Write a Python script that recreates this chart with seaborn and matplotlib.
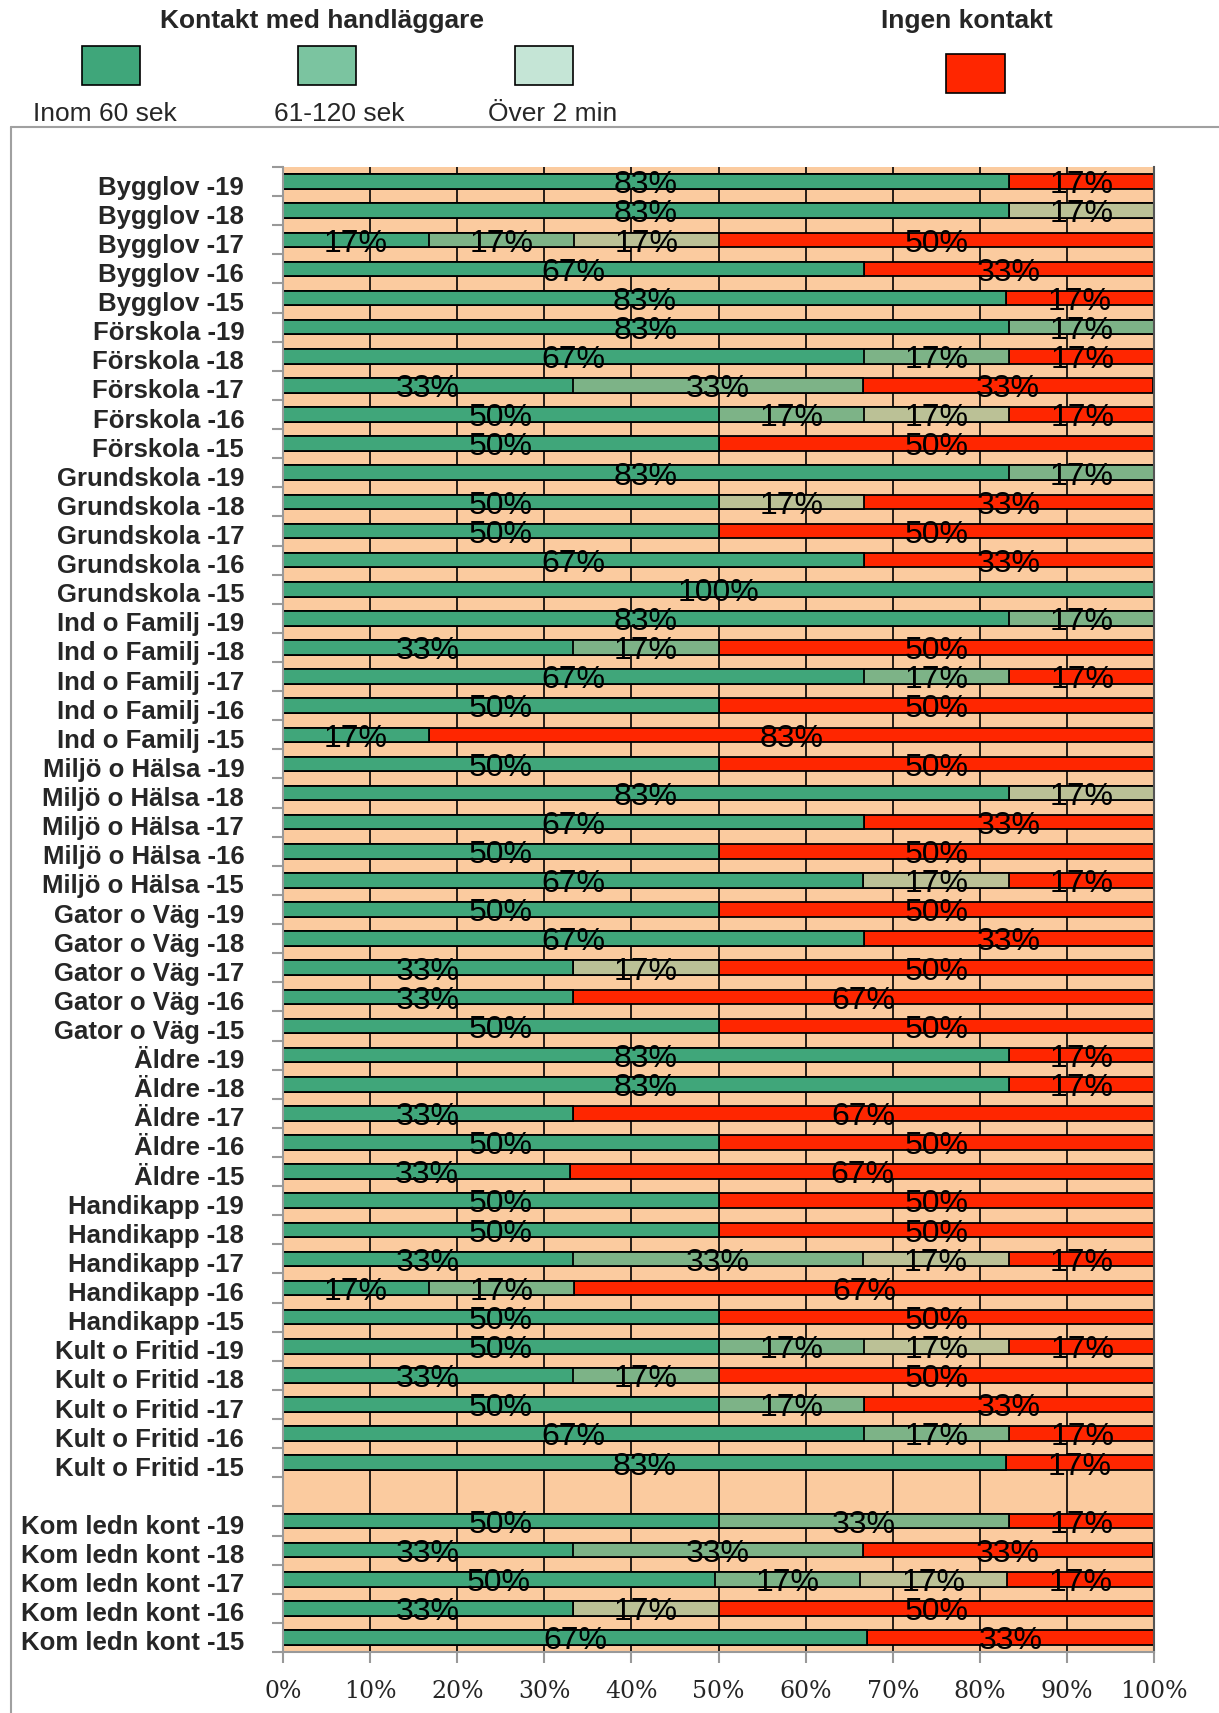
import numpy as np
import matplotlib
matplotlib.use("Agg")
import matplotlib.pyplot as plt
from matplotlib.patches import Rectangle
from matplotlib.lines import Line2D
import pandas as pd
import seaborn as sns

# categories (top to bottom), "" is the empty spacer row
categories = [
    "Bygglov -19", "Bygglov -18", "Bygglov -17", "Bygglov -16", "Bygglov -15",
    "Förskola -19", "Förskola -18", "Förskola -17", "Förskola -16", "Förskola -15",
    "Grundskola -19", "Grundskola -18", "Grundskola -17", "Grundskola -16", "Grundskola -15",
    "Ind o Familj -19", "Ind o Familj -18", "Ind o Familj -17", "Ind o Familj -16", "Ind o Familj -15",
    "Miljö o Hälsa -19", "Miljö o Hälsa -18", "Miljö o Hälsa -17", "Miljö o Hälsa -16", "Miljö o Hälsa -15",
    "Gator o Väg -19", "Gator o Väg -18", "Gator o Väg -17", "Gator o Väg -16", "Gator o Väg -15",
    "Äldre -19", "Äldre -18", "Äldre -17", "Äldre -16", "Äldre -15",
    "Handikapp -19", "Handikapp -18", "Handikapp -17", "Handikapp -16", "Handikapp -15",
    "Kult o Fritid -19", "Kult o Fritid -18", "Kult o Fritid -17", "Kult o Fritid -16", "Kult o Fritid -15",
    "",
    "Kom ledn kont -19", "Kom ledn kont -18", "Kom ledn kont -17", "Kom ledn kont -16", "Kom ledn kont -15",
]

# percent per row
inom60 = [83.3, 83.3, 16.7, 66.7, 83.0,
          83.3, 66.7, 33.3, 50.0, 50.0,
          83.3, 50.0, 50.0, 66.7, 100.0,
          83.3, 33.3, 66.7, 50.0, 16.7,
          50.0, 83.3, 66.7, 50.0, 66.6,
          50.0, 66.7, 33.3, 33.3, 50.0,
          83.3, 83.3, 33.3, 50.0, 33.0,
          50.0, 50.0, 33.3, 16.7, 50.0,
          50.0, 33.3, 50.0, 66.7, 83.0,
          0.0,
          50.0, 33.3, 49.6, 33.3, 67.1]
sek61_120 = [0, 0, 16.7, 0, 0,
             16.7, 16.7, 33.3, 16.7, 0,
             16.7, 0, 0, 0, 0,
             16.7, 16.7, 16.7, 0, 0,
             0, 0, 0, 0, 0,
             0, 0, 0, 0, 0,
             0, 0, 0, 0, 0,
             0, 0, 33.3, 16.7, 0,
             16.7, 16.7, 16.7, 16.7, 0,
             0,
             33.3, 33.3, 16.6, 0, 0]
over2min = [0, 16.7, 16.7, 0, 0,
            0, 0, 0, 16.7, 0,
            0, 16.7, 0, 0, 0,
            0, 0, 0, 0, 0,
            0, 16.7, 0, 0, 16.8,
            0, 0, 16.7, 0, 0,
            0, 0, 0, 0, 0,
            0, 0, 16.7, 0, 0,
            16.7, 0, 0, 0, 0,
            0,
            0, 0, 16.9, 16.7, 0]
ingen = [16.7, 0, 50.0, 33.3, 17.0,
         0, 16.7, 33.3, 16.7, 50.0,
         0, 33.3, 50.0, 33.3, 0,
         0, 50.0, 16.7, 50.0, 83.3,
         50.0, 0, 33.3, 50.0, 16.6,
         50.0, 33.3, 50.0, 66.7, 50.0,
         16.7, 16.7, 66.7, 50.0, 67.0,
         50.0, 50.0, 16.7, 66.7, 50.0,
         16.7, 50.0, 33.3, 16.7, 17.0,
         0,
         16.7, 33.3, 16.9, 50.0, 32.9]

series_names = ["Inom 60 sek", "61-120 sek", "Över 2 min"]
bar_colors = ["#40A67A", "#7DB387", "#BBC196", "#FF2600"]
legend_colors = ["#3FA67A", "#7BC4A0", "#C5E5D6", "#FF2600"]
peach = "#FBCB9F"

df = pd.DataFrame({"kat": categories, "a": inom60, "b": sek61_120,
                   "c": over2min, "d": ingen})
df["c1"] = df["a"]
df["c2"] = df["a"] + df["b"]
df["c3"] = df["c2"] + df["c"]
df["c4"] = df["c3"] + df["d"]

sns.set_style("white")
plt.rcParams["font.family"] = ["Liberation Sans", "DejaVu Sans"]

fig = plt.figure(figsize=(12.19, 17.13), dpi=100)
ax = fig.add_axes([0.2322, 0.0356, 0.7145, 0.8669])
ax.set_facecolor(peach)

# vertical grid behind bars
for gx in range(10, 100, 10):
    ax.axvline(gx, color="black", lw=1.2, zorder=0)

# stacked bars drawn as layered cumulative sums (longest first)
for col, colr in zip(["c4", "c3", "c2", "c1"], bar_colors[::-1]):
    sns.barplot(data=df, x=col, y="kat", orient="y", color=colr,
                saturation=1, edgecolor="black", linewidth=1.3, width=0.5,
                order=categories, ax=ax, zorder=2)

# percent labels in the middle of each segment
for i, row in df.iterrows():
    left = 0
    for seg in ["a", "b", "c", "d"]:
        v = row[seg]
        if v > 0:
            ax.text(left + v / 2, i + 0.13, f"{v:.0f}%", ha="center",
                    va="center", fontsize=23, color="black", zorder=5)
        left += v

ax.set_xlim(0, 100)
ax.set_ylim(len(categories) - 0.5, -0.5)
ax.set_xlabel("")
ax.set_ylabel("")
ax.set_xticks(np.arange(0, 101, 10))
ax.set_xticklabels([f"{t}%" for t in range(0, 101, 10)],
                   fontfamily="DejaVu Serif", fontsize=17)
ax.set_yticks(np.arange(len(categories)) + 0.12)
ax.set_yticklabels(categories, fontsize=18.5, fontweight="bold")
ax.set_yticks(np.arange(-0.5, len(categories), 1), minor=True)
ax.tick_params(axis="y", which="major", length=0, pad=28)
ax.tick_params(axis="y", which="minor", length=8, color="#999999", width=1.5,
               left=True)
ax.tick_params(axis="x", which="major", length=8, color="#999999", width=1.5,
               bottom=True, pad=12)

for s in ["left", "bottom"]:
    ax.spines[s].set_color("#999999")
    ax.spines[s].set_linewidth(1.5)
ax.spines["right"].set_color("#555555")
ax.spines["right"].set_linewidth(1.5)
ax.spines["top"].set_visible(False)

# outer frame
fig.add_artist(Line2D([0.009, 0.009], [0.0, 0.9259], color="#A0A0A0",
                      lw=1.5, transform=fig.transFigure))
fig.add_artist(Line2D([0.009, 1.0], [0.9259, 0.9259], color="#A0A0A0",
                      lw=1.5, transform=fig.transFigure))

# legend on top
fig.text(0.264, 0.9877, "Kontakt med handläggare", ha="center", va="center",
         fontsize=19, fontweight="bold")
fig.text(0.793, 0.9877, "Ingen kontakt", ha="center", va="center",
         fontsize=19, fontweight="bold")
patch_x = [0.0673, 0.2445, 0.4225]
label_x = [0.0861, 0.278, 0.453]
for px, lx, name, colr in zip(patch_x, label_x, series_names, legend_colors[:3]):
    fig.add_artist(Rectangle((px, 0.9504), 0.0476, 0.0228, facecolor=colr,
                             edgecolor="black", lw=1.2,
                             transform=fig.transFigure))
    fig.text(lx, 0.9335, name, ha="center", va="center", fontsize=19)
fig.add_artist(Rectangle((0.776, 0.9457), 0.0484, 0.0225,
                         facecolor=legend_colors[3], edgecolor="black", lw=1.2,
                         transform=fig.transFigure))

fig.savefig("out.png", dpi=100)
